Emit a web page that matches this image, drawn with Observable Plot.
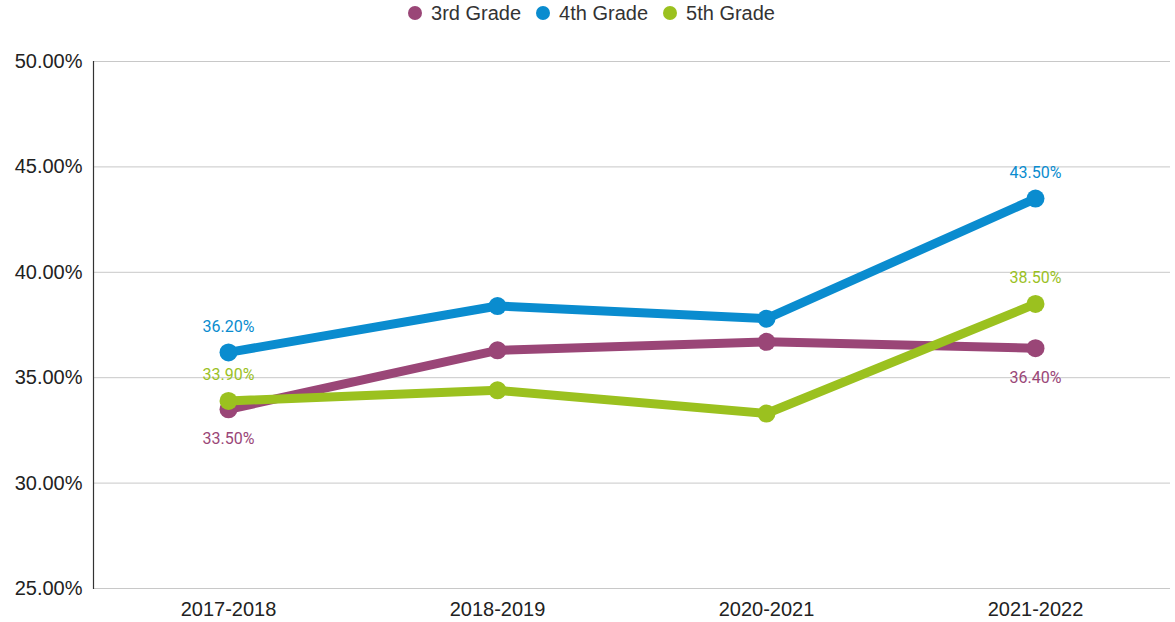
<!DOCTYPE html>
<html>
<head>
<meta charset="utf-8">
<script src="https://cdn.jsdelivr.net/npm/d3@7"></script>
<script src="https://cdn.jsdelivr.net/npm/@observablehq/plot@0.6"></script>
<style>
  body { margin: 0; background: #fff; }
  #legend { height: 26px; display: flex; justify-content: center; align-items: center; gap: 15px;
    font-family: "Liberation Sans", Arial, sans-serif; font-size: 20px; color: #333; padding-left: 8px; }
  .item { display: flex; align-items: center; gap: 9px; }
  .sw { width: 14px; height: 14px; border-radius: 50%; display: inline-block; }
  #chart svg { display: block; }
</style>
</head>
<body>
<div id="legend"></div>
<div id="chart"></div>
<script>
const years = ["2017-2018", "2018-2019", "2020-2021", "2021-2022"];
const grades = ["3rd Grade", "4th Grade", "5th Grade"];
const colors = ["#9a4677", "#0a8ccf", "#9bc11f"];
const grade3 = [33.5, 36.3, 36.7, 36.4];
const grade4 = [36.2, 38.4, 37.8, 43.5];
const grade5 = [33.9, 34.4, 33.3, 38.5];
const yTicks = [25, 30, 35, 40, 45, 50];

const series = [grade3, grade4, grade5];
const data = [];
series.forEach((vals, gi) => vals.forEach((v, i) => data.push({grade: grades[gi], year: years[i], value: v, idx: i})));

// label placement: first and last points; 3rd grade below, others above
const labelled = data.filter(d => d.idx === 0 || d.idx === years.length - 1);
const below = labelled.filter(d => d.grade === "3rd Grade");
const above = labelled.filter(d => d.grade !== "3rd Grade");

const legend = document.getElementById("legend");
grades.forEach((g, i) => {
  const it = document.createElement("span");
  it.className = "item";
  it.innerHTML = `<span class="sw" style="background:${colors[i]}"></span><span>${g}</span>`;
  legend.appendChild(it);
});

const chart = Plot.plot({
  width: 1175,
  height: 596,
  marginTop: 35,
  marginBottom: 34,
  marginLeft: 93,
  marginRight: 5,
  style: { fontFamily: "Liberation Sans, Arial, sans-serif", fontSize: "20px", color: "#222", background: "#fff" },
  x: { type: "point", domain: years, padding: 0.5, label: null },
  y: { domain: [25, 50], ticks: yTicks, label: null },
  color: { domain: grades, range: colors },
  marks: [
    Plot.gridY(yTicks, { stroke: "#c8c8c8", strokeOpacity: 1, strokeWidth: 1 }),
    Plot.frame({ anchor: "left", stroke: "#333", strokeWidth: 1.2 }),
    Plot.axisY(yTicks, { tickSize: 0, tickPadding: 11, tickFormat: d => d.toFixed(2) + "%", fontSize: 20, fill: "#222" }),
    Plot.axisX({ tickSize: 0, tickPadding: 13, fontSize: 20, fill: "#222" }),
    Plot.line(data, { x: "year", y: "value", z: "grade", stroke: "grade", strokeWidth: 9, strokeLinecap: "round", strokeLinejoin: "round" }),
    Plot.dot(data, { x: "year", y: "value", fill: "grade", r: 9 }),
    Plot.text(above, { x: "year", y: "value", text: d => d.value.toFixed(2) + "%", fill: "grade", dy: -26, fontSize: 16, fontFamily: "Roboto, sans-serif" }),
    Plot.text(below, { x: "year", y: "value", text: d => d.value.toFixed(2) + "%", fill: "grade", dy: 30, fontSize: 16, fontFamily: "Roboto, sans-serif" })
  ]
});
document.getElementById("chart").appendChild(chart);
</script>
</body>
</html>
